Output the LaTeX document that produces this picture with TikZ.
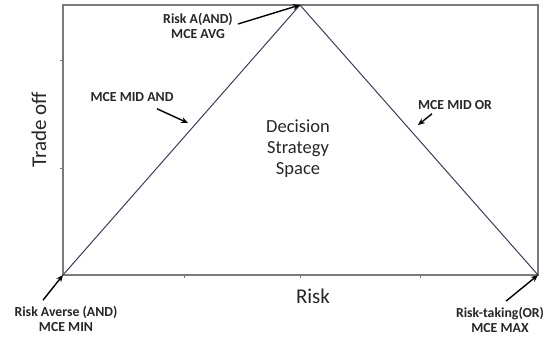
\documentclass[tikz,border=0pt]{standalone}
\usepackage{fontspec}
\setmainfont{Carlito}
\usetikzlibrary{calc,arrows.meta}
\definecolor{frameGray}{HTML}{7A7A7A}
\definecolor{sideBlue}{HTML}{3C3C5C}
\definecolor{labelInk}{HTML}{262626}

\begin{document}
\begin{tikzpicture}[x=1pt,y=-1pt,
        every node/.style={inner sep=0pt,align=center,text=labelInk},
        tag/.style={font=\bfseries\fontsize{13.8}{15}\selectfont},
        axisname/.style={font=\fontsize{21}{24}\selectfont},
        pointer/.style={-{Stealth[length=7pt,width=6pt]},line width=1.4pt,black}]

    \useasboundingbox (0,0) rectangle (548,338);

    % corners of the frame and top of the triangle
    \coordinate (lowLeft) at (63,275);
    \coordinate (lowRight) at (538,275);
    \coordinate (upLeft) at (63,5);
    \coordinate (upRight) at (538,5);
    \coordinate (apex) at (300,5);

    \draw[frameGray,line width=1.2pt] (lowLeft) rectangle (upRight);

    % tick marks
    \foreach \ty in {60,168}
        \draw[frameGray,line width=0.8pt] (60,\ty) -- (63,\ty);
    \foreach \tx in {184,300,420}
        \draw[frameGray,line width=0.8pt] (\tx,275) -- (\tx,278);

    % the two sides of the strategy space
    \draw[sideBlue,line width=1pt] (lowLeft) -- (apex) -- (lowRight);

    % texts
    \node[tag] (mAvg) at (198,26) {Risk A(AND)\\MCE AVG};
    \node[tag] (mMidAnd) at (132,97) {MCE MID AND};
    \node[tag] (mMidOr) at (455,105) {MCE MID OR};
    \node[tag] (mMin) at (66,319) {Risk Averse (AND)\\MCE MIN};
    \node[tag] (mMax) at (500,320) {Risk-taking(OR)\\MCE MAX};
    \node[font=\fontsize{18.5}{21}\selectfont] (space) at (298,149) {Decision\\Strategy\\Space};
    \node[axisname] (xName) at (313,296) {Risk};
    \node[axisname,rotate=90] (yName) at (39,130) {Trade off};

    % arrow heads on the sides
    \coordinate (hitAnd) at (188,123);
    \coordinate (hitOr) at (418,125);

    \draw[pointer] ($(mAvg.east)+(5,-2)$) -- (apex);
    \draw[pointer] ($(mMidAnd.south)+(25,7)$) -- (hitAnd);
    \draw[pointer] ($(mMidOr.south)+(-23,4)$) -- (hitOr);
    \draw[pointer] ($(mMin.north)+(-23,-6)$) -- (lowLeft);
    \draw[pointer] ($(mMax.north)+(6,-6)$) -- (lowRight);

\end{tikzpicture}
\end{document}
